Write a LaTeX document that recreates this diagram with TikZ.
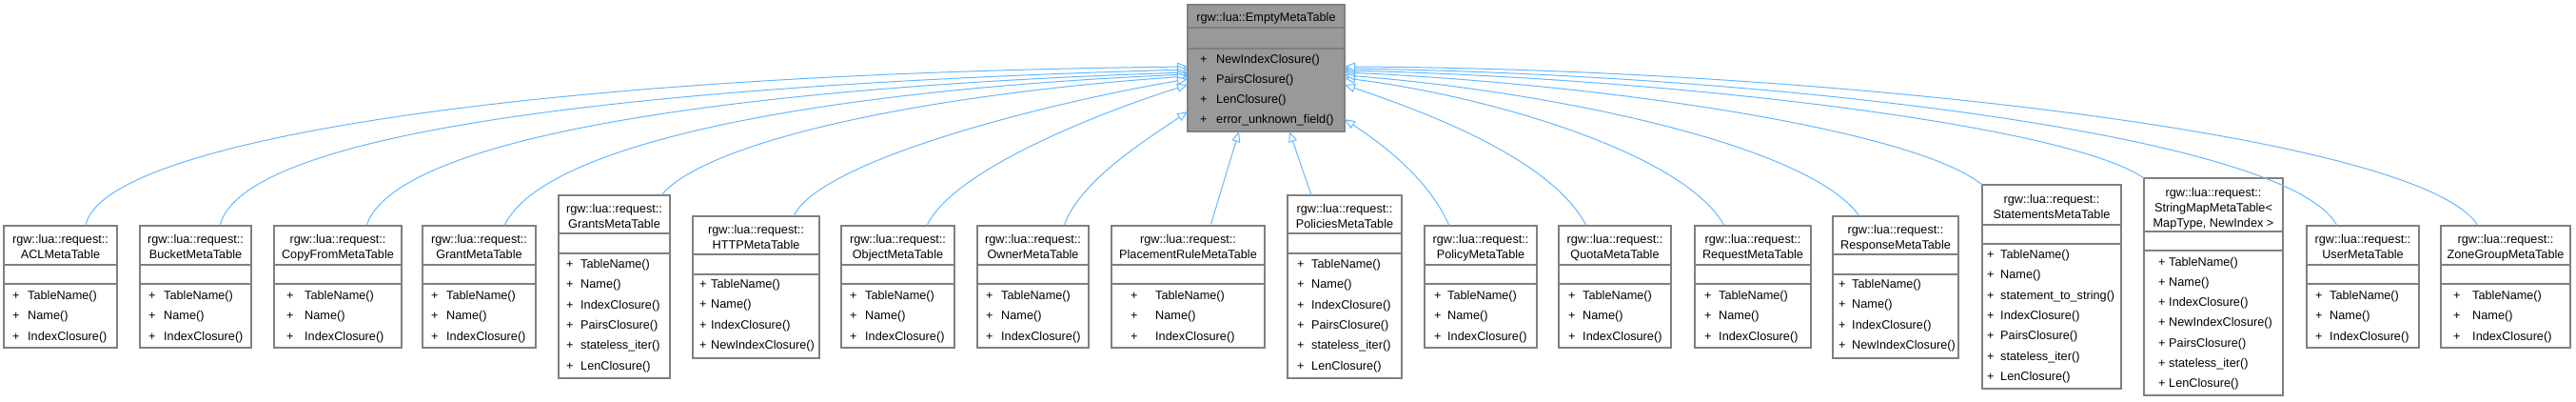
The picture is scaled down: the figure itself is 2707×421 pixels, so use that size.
\documentclass[tikz,border=0pt]{standalone}
\usepackage{fontspec}
\setmainfont{Liberation Sans}
\usetikzlibrary{arrows.meta}
\definecolor{edgeblue}{HTML}{63B8FF}
\definecolor{boxgray}{HTML}{808080}
\definecolor{mainfill}{HTML}{999999}
\tikzset{
  umlbox/.style={draw=boxgray, line width=1.3pt, fill=white, inner sep=0pt, outer sep=0pt, anchor=north west},
  sepline/.style={draw=boxgray, line width=1.3pt},
  txt/.style={font=\fontsize{12.7}{15}\selectfont, inner sep=0pt, text=black},
  inherit/.style={draw=edgeblue, line width=1pt, -{Triangle[length=11pt,width=9pt,fill=white]}},
}
% #1 name, #2 left, #3 top, #4 right, #5 bottom, #6 title sep, #7 attr sep
\newcommand\umlclass[8][]{%
  \node[umlbox,#1, minimum width={(#5-#3)*1pt}, minimum height={(#6-#4)*1pt}] (#2) at (#3,#4) {};
  \draw[sepline] (#3,#7) -- (#5,#7) (#3,#8) -- (#5,#8);
}
% #1 name, #2 x centre, #3 first y, #4 list
\newcommand\umltitle[4]{%
  \foreach \t [count=\i from 0] in {#4} {\node[txt,anchor=base] (#1-t\i) at (#2,{#3+\i*16+4.5}) {\t};}
}
% #1 name, #2 x plus, #3 x text, #4 first y, #5 list
\newcommand\umlmethods[5]{%
  \foreach \m [count=\i from 0] in {#5} {
    \node[txt,anchor=base west] (#1-p\i) at (#2,{#4+\i*21.3+4.5}) {+};
    \node[txt,anchor=base west] (#1-m\i) at (#3,{#4+\i*21.3+4.5}) {\m};
  }
}
\begin{document}
\begin{tikzpicture}[x=1pt,y=-1pt]
\useasboundingbox (0,0) rectangle (2707,421);

% parent
\umlclass[fill=mainfill]{emt}{1248}{5}{1413}{138}{29}{51}
\umltitle{emt}{1330.5}{18}{rgw::lua::EmptyMetaTable}
\umlmethods{emt}{1261}{1278}{61.5}{NewIndexClosure(),PairsClosure(),LenClosure(),error\_unknown\_field()}

% children
\umlclass{acl}{4}{237}{123}{365}{278}{298}
\umltitle{acl}{63.5}{250.5}{rgw::lua::request::,ACLMetaTable}
\umlmethods{acl}{13}{29}{310}{TableName(),Name(),IndexClosure()}

\umlclass{bucket}{147}{237}{264}{365}{278}{298}
\umltitle{bucket}{205.5}{250.5}{rgw::lua::request::,BucketMetaTable}
\umlmethods{bucket}{156}{172}{310}{TableName(),Name(),IndexClosure()}

\umlclass{copyfrom}{288}{237}{422}{365}{278}{298}
\umltitle{copyfrom}{355}{250.5}{rgw::lua::request::,CopyFromMetaTable}
\umlmethods{copyfrom}{301}{320}{310}{TableName(),Name(),IndexClosure()}

\umlclass{grant}{444}{237}{563}{365}{278}{298}
\umltitle{grant}{503.5}{250.5}{rgw::lua::request::,GrantMetaTable}
\umlmethods{grant}{453}{469}{310}{TableName(),Name(),IndexClosure()}

\umlclass{grants}{587}{205}{704}{397}{245}{266}
\umltitle{grants}{645.5}{218.5}{rgw::lua::request::,GrantsMetaTable}
\umlmethods{grants}{595}{610}{277}{TableName(),Name(),IndexClosure(),PairsClosure(),stateless\_iter(),LenClosure()}

\umlclass{http}{728}{227}{861}{376}{267}{288}
\umltitle{http}{794.5}{241}{rgw::lua::request::,HTTPMetaTable}
\umlmethods{http}{735}{747}{298}{TableName(),Name(),IndexClosure(),NewIndexClosure()}

\umlclass{object}{884}{237}{1003}{365}{278}{298}
\umltitle{object}{943.5}{250.5}{rgw::lua::request::,ObjectMetaTable}
\umlmethods{object}{893}{909}{310}{TableName(),Name(),IndexClosure()}

\umlclass{owner}{1027}{237}{1144}{365}{278}{298}
\umltitle{owner}{1085.5}{250.5}{rgw::lua::request::,OwnerMetaTable}
\umlmethods{owner}{1036}{1052}{310}{TableName(),Name(),IndexClosure()}

\umlclass{placement}{1168}{237}{1329}{365}{278}{298}
\umltitle{placement}{1248.5}{250.5}{rgw::lua::request::,PlacementRuleMetaTable}
\umlmethods{placement}{1188}{1214}{310}{TableName(),Name(),IndexClosure()}

\umlclass{policies}{1353}{205}{1473}{397}{245}{266}
\umltitle{policies}{1413}{218.5}{rgw::lua::request::,PoliciesMetaTable}
\umlmethods{policies}{1363}{1378}{277}{TableName(),Name(),IndexClosure(),PairsClosure(),stateless\_iter(),LenClosure()}

\umlclass{policy}{1497}{237}{1615}{365}{278}{298}
\umltitle{policy}{1556}{250.5}{rgw::lua::request::,PolicyMetaTable}
\umlmethods{policy}{1507}{1521}{310}{TableName(),Name(),IndexClosure()}

\umlclass{quota}{1638}{237}{1756}{365}{278}{298}
\umltitle{quota}{1697}{250.5}{rgw::lua::request::,QuotaMetaTable}
\umlmethods{quota}{1648}{1663}{310}{TableName(),Name(),IndexClosure()}

\umlclass{request}{1781}{237}{1903}{365}{278}{298}
\umltitle{request}{1842}{250.5}{rgw::lua::request::,RequestMetaTable}
\umlmethods{request}{1791}{1806}{310}{TableName(),Name(),IndexClosure()}

\umlclass{response}{1926}{227}{2058}{376}{267}{288}
\umltitle{response}{1992}{241}{rgw::lua::request::,ResponseMetaTable}
\umlmethods{response}{1932}{1946}{298}{TableName(),Name(),IndexClosure(),NewIndexClosure()}

\umlclass{statements}{2083}{194}{2229}{408}{236}{256}
\umltitle{statements}{2156}{209}{rgw::lua::request::,StatementsMetaTable}
\umlmethods{statements}{2088}{2102}{267}{TableName(),Name(),statement\_to\_string(),IndexClosure(),PairsClosure(),stateless\_iter(),LenClosure()}

\umlclass{stringmap}{2253}{187}{2399}{415}{243}{263}
\umltitle{stringmap}{2326}{201.5}{rgw::lua::request::,StringMapMetaTable<,{MapType, NewIndex >}}
\umlmethods{stringmap}{2268}{2279}{274.5}{TableName(),Name(),IndexClosure(),NewIndexClosure(),PairsClosure(),stateless\_iter(),LenClosure()}

\umlclass{user}{2424}{237}{2542}{365}{278}{298}
\umltitle{user}{2483}{250.5}{rgw::lua::request::,UserMetaTable}
\umlmethods{user}{2433}{2448}{310}{TableName(),Name(),IndexClosure()}

\umlclass{zonegroup}{2565}{237}{2701}{365}{278}{298}
\umltitle{zonegroup}{2633}{250.5}{rgw::lua::request::,ZoneGroupMetaTable}
\umlmethods{zonegroup}{2578}{2598}{310}{TableName(),Name(),IndexClosure()}

% connector end points
\coordinate (s-acl) at (90,237);        \coordinate (t-acl) at (1248,70);
\coordinate (s-bucket) at (231,237);    \coordinate (t-bucket) at (1248,73);
\coordinate (s-copyfrom) at (385,237);  \coordinate (t-copyfrom) at (1248,76);
\coordinate (s-grant) at (530,237);     \coordinate (t-grant) at (1248,78);
\coordinate (s-grants) at (695,205);    \coordinate (t-grants) at (1248,80);
\coordinate (s-http) at (834,227);      \coordinate (t-http) at (1248,83);
\coordinate (s-object) at (974,237);    \coordinate (t-object) at (1248,89);
\coordinate (s-owner) at (1118,237);    \coordinate (t-owner) at (1248,117);
\coordinate (s-placement) at (1272,237);\coordinate (t-placement) at (1302,138);
\coordinate (s-policies) at (1378,205); \coordinate (t-policies) at (1355,138);
\coordinate (s-policy) at (1523,237);   \coordinate (t-policy) at (1413,125);
\coordinate (s-quota) at (1667,237);    \coordinate (t-quota) at (1413,89);
\coordinate (s-request) at (1812,237);  \coordinate (t-request) at (1413,82);
\coordinate (s-response) at (1954,227); \coordinate (t-response) at (1413,79);
\coordinate (s-statements) at (2083,194);\coordinate (t-statements) at (1413,76);
\coordinate (s-stringmap) at (2253,187);\coordinate (t-stringmap) at (1413,74);
\coordinate (s-user) at (2456,237);     \coordinate (t-user) at (1413,72);
\coordinate (s-zonegroup) at (2604,237);\coordinate (t-zonegroup) at (1413,70);

\draw[inherit] (s-acl) .. controls (105,150) and (540,78) .. (t-acl);
\draw[inherit] (s-bucket) .. controls (255,140) and (650,90) .. (t-bucket);
\draw[inherit] (s-copyfrom) .. controls (415,145) and (760,92) .. (t-copyfrom);
\draw[inherit] (s-grant) .. controls (570,150) and (860,95) .. (t-grant);
\draw[inherit] (s-grants) .. controls (740,150) and (960,100) .. (t-grants);
\draw[inherit] (s-http) .. controls (860,170) and (1090,110) .. (t-http);
\draw[inherit] (s-object) .. controls (1000,180) and (1150,120) .. (t-object);
\draw[inherit] (s-owner) .. controls (1135,190) and (1200,150) .. (t-owner);
\draw[inherit] (s-placement) -- (t-placement);
\draw[inherit] (s-policies) -- (t-policies);
\draw[inherit] (s-policy) .. controls (1500,185) and (1450,150) .. (t-policy);
\draw[inherit] (s-quota) .. controls (1630,165) and (1490,115) .. (t-quota);
\draw[inherit] (s-request) .. controls (1770,160) and (1560,100) .. (t-request);
\draw[inherit] (s-response) .. controls (1900,150) and (1620,95) .. (t-response);
\draw[inherit] (s-statements) .. controls (2010,135) and (1680,88) .. (t-statements);
\draw[inherit] (s-stringmap) .. controls (2170,130) and (1750,82) .. (t-stringmap);
\draw[inherit] (s-user) .. controls (2405,140) and (1850,78) .. (t-user);
\draw[inherit] (s-zonegroup) .. controls (2545,140) and (1900,72) .. (t-zonegroup);
\end{tikzpicture}
\end{document}
